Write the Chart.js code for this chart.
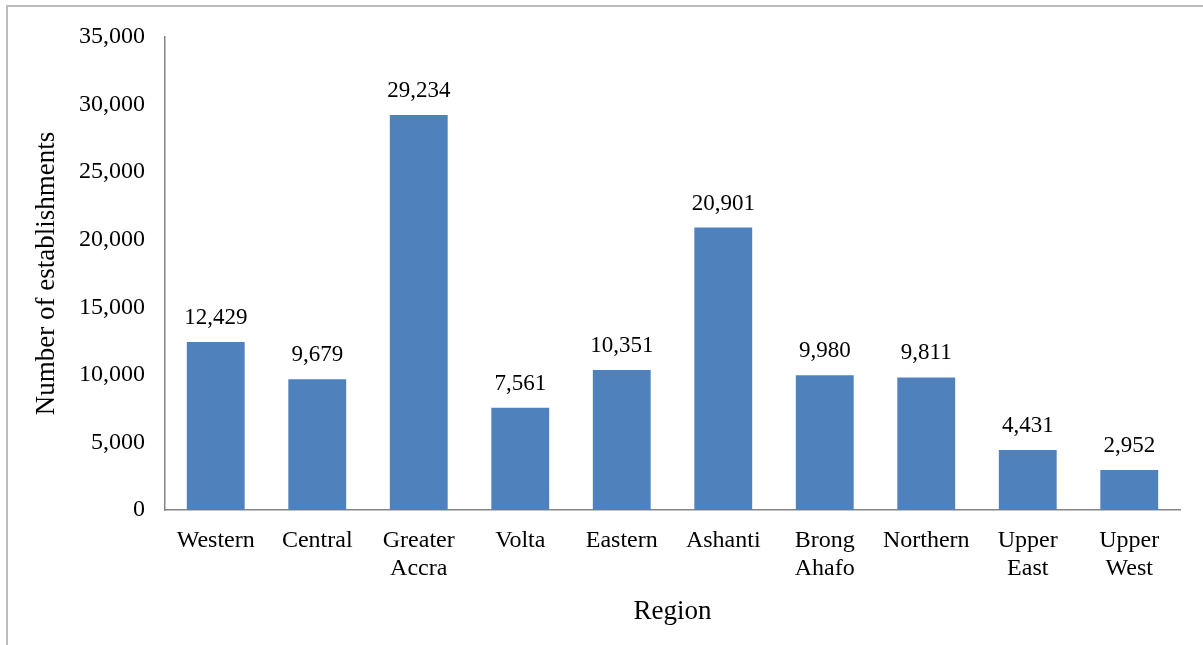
<!DOCTYPE html>
<html lang="en">
<head>
    <meta charset="UTF-8">
    <title>Establishments by region</title>
    <script src="https://cdn.jsdelivr.net/npm/chart.js@4/dist/chart.umd.min.js"></script>
    <style>
        html, body {
            margin: 0;
            padding: 0;
            background: #fff;
        }
        .wrap {
            position: relative;
            width: 1203px;
            height: 645px;
        }
        /* cropped frame of the original figure */
        .frame {
            position: absolute;
            left: 6px;
            top: 5px;
            right: -10px;
            bottom: -10px;
            border-left: 2px solid #bdbdbd;
            border-top: 2px solid #bdbdbd;
            pointer-events: none;
        }
        canvas {
            display: block;
        }
    </style>
</head>
<body>

<div class="wrap">
    <canvas id="myChart" width="1203" height="645"></canvas>
    <div class="frame"></div>
</div>

<script>
    var regions = [
        'Western', 'Central', ['Greater', 'Accra'], 'Volta', 'Eastern',
        'Ashanti', ['Brong', 'Ahafo'], 'Northern', ['Upper', 'East'], ['Upper', 'West']
    ];
    var establishments = [12429, 9679, 29234, 7561, 10351, 20901, 9980, 9811, 4431, 2952];
    var yTicks = [0, 5000, 10000, 15000, 20000, 25000, 30000, 35000];

    var serif = '"Liberation Serif", "Times New Roman", serif';

    // value labels above each bar
    var barLabels = {
        id: 'barLabels',
        afterDatasetsDraw: function (chart) {
            var ctx = chart.ctx;
            var meta = chart.getDatasetMeta(0);
            ctx.save();
            ctx.font = '23px ' + serif;
            ctx.fillStyle = '#000';
            ctx.textAlign = 'center';
            ctx.textBaseline = 'middle';
            meta.data.forEach(function (bar, i) {
                ctx.fillText(establishments[i].toLocaleString('en-US'), bar.x, bar.y - 24);
            });
            ctx.restore();
        }
    };

    var ctx = document.getElementById('myChart').getContext('2d');
    new Chart(ctx, {
        type: 'bar',
        data: {
            labels: regions,
            datasets: [{
                data: establishments,
                backgroundColor: '#4f81bd',
                barPercentage: 0.57,
                categoryPercentage: 1
            }]
        },
        options: {
            responsive: false,
            animation: false,
            layout: { padding: { left: 0, top: 37, right: 23, bottom: 0 } },
            plugins: {
                legend: { display: false },
                tooltip: { enabled: false }
            },
            scales: {
                x: {
                    grid: { display: false, drawTicks: false },
                    border: { display: true, color: '#868686', width: 1.5 },
                    ticks: {
                        color: '#000',
                        font: { family: serif, size: 24, lineHeight: 1.17 },
                        padding: 17,
                        maxRotation: 0,
                        autoSkip: false
                    },
                    title: {
                        display: true,
                        text: 'Region',
                        color: '#000',
                        font: { family: serif, size: 27 },
                        padding: { top: 0, bottom: 17 }
                    },
                    afterFit: function (scale) { scale.height = 135; }
                },
                y: {
                    min: 0,
                    max: 35000,
                    grid: { display: false, drawTicks: false },
                    border: { display: true, color: '#868686', width: 1.5 },
                    afterBuildTicks: function (scale) {
                        scale.ticks = yTicks.map(function (v) { return { value: v }; });
                    },
                    ticks: {
                        color: '#000',
                        font: { family: serif, size: 24 },
                        padding: 20,
                        callback: function (v) { return v.toLocaleString('en-US'); }
                    },
                    title: {
                        display: true,
                        text: 'Number of establishments',
                        color: '#000',
                        font: { family: serif, size: 27 },
                        padding: { top: 31, bottom: 0 }
                    },
                    afterFit: function (scale) { scale.width = 165; }
                }
            }
        },
        plugins: [barLabels]
    });
</script>

</body>
</html>
